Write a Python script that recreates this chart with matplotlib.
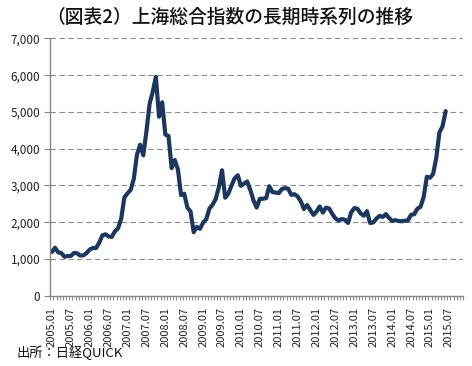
import numpy as np
import matplotlib
matplotlib.use("Agg")
import matplotlib.pyplot as plt

plt.rcParams['font.family'] = ['Noto Sans CJK JP', 'DejaVu Sans']

# 月末値（上海総合指数）2005.01 - 2015.06
years = list(range(2005, 2016))
index_values = [
    1191, 1306, 1181, 1159, 1060, 1080, 1083, 1162, 1155, 1092, 1099, 1161,  # 2005
    1258, 1299, 1298, 1440, 1641, 1672, 1612, 1601, 1752, 1837, 2099, 2675,  # 2006
    2786, 2881, 3183, 3841, 4109, 3820, 4471, 5218, 5552, 5954, 4871, 5262,  # 2007
    4383, 4348, 3472, 3693, 3433, 2736, 2776, 2397, 2293, 1729, 1871, 1821,  # 2008
    1990, 2082, 2373, 2477, 2632, 2959, 3412, 2667, 2779, 2996, 3195, 3277,  # 2009
    2989, 3051, 3109, 2870, 2592, 2398, 2638, 2639, 2655, 2979, 2820, 2808,  # 2010
    2790, 2905, 2928, 2911, 2743, 2762, 2701, 2568, 2359, 2468, 2333, 2199,  # 2011
    2293, 2428, 2263, 2396, 2373, 2225, 2103, 2047, 2086, 2069, 1980, 2269,  # 2012
    2385, 2366, 2237, 2178, 2301, 1979, 1994, 2098, 2175, 2142, 2221, 2116,  # 2013
    2033, 2056, 2033, 2026, 2039, 2048, 2202, 2217, 2364, 2420, 2683, 3235,  # 2014
    3210, 3310, 3748, 4441, 4612, 5023,                                      # 2015
]
tick_labels = [f"{y}.{m:02d}" for y in years for m in (1, 7)]
y_ticks = [0, 1000, 2000, 3000, 4000, 5000, 6000, 7000]

title = "（図表2）上海総合指数の長期時系列の推移"
source = "出所：日経QUICK"

line_color = '#1c375e'
axis_color = '#868686'

fig = plt.figure(figsize=(4.72, 3.66), dpi=100)
ax = fig.add_axes([0.106, 0.192, 0.875, 0.703])

x = np.arange(len(index_values))
ax.plot(x, index_values, color=line_color, lw=3.0, solid_joinstyle='round',
        solid_capstyle='round')

ax.set_ylim(0, 7000)
ax.set_xlim(-0.6, 130.5)

ax.set_yticks(y_ticks)
ax.set_yticklabels([f"{v:,}" for v in y_ticks], fontsize=8.5, color='#222222')
ax.tick_params(axis='y', length=4, width=0.8, color=axis_color, pad=3)

for v in y_ticks[1:]:
    ax.axhline(v, color='#8c8c8c', lw=0.8, ls=(0, (5, 3)), zorder=0)

label_pos = np.arange(0, 6 * len(tick_labels), 6)
ax.set_xticks(label_pos)
ax.set_xticklabels(tick_labels, rotation=90, fontsize=8, color='#222222')
ax.tick_params(axis='x', which='major', length=0, pad=8)
ax.set_xticks(np.arange(-0.5, 131, 1), minor=True)
ax.tick_params(axis='x', which='minor', length=3, width=0.7, color=axis_color)

for side in ('top', 'right'):
    ax.spines[side].set_visible(False)
for side in ('left', 'bottom'):
    ax.spines[side].set_color(axis_color)
    ax.spines[side].set_linewidth(1.0)

fig.text(0.487, 0.953, title, ha='center', va='center', fontsize=13.5,
         fontweight='medium', color='#111111')
fig.text(0.036, 0.016, source, ha='left', va='bottom', fontsize=9.5,
         color='#111111')

fig.savefig('out.png', dpi=100)
